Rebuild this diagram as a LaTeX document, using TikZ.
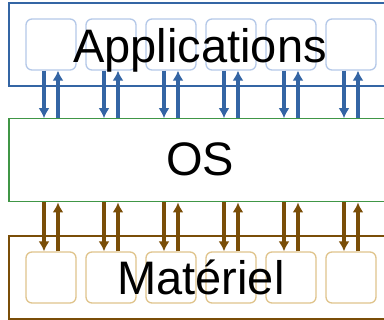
\documentclass[tikz,border=0pt]{standalone}
\usepackage{xcolor}
\usepackage{fontspec}
\setmainfont{Liberation Sans}
\usetikzlibrary{arrows.meta,positioning}

\definecolor{appblue}{RGB}{52,101,164}
\definecolor{applight}{RGB}{180,200,232}
\definecolor{osgreen}{RGB}{64,150,70}
\definecolor{hwbrown}{RGB}{122,78,8}
\definecolor{hwlight}{RGB}{224,196,140}

\tikzset{
    layer/.style={draw, line width=1.3pt, fill=white, minimum width=387pt, minimum height=83pt, inner sep=0pt},
    slot/.style={draw, line width=1.3pt, rounded corners=6pt, fill=white, minimum width=50pt, minimum height=51pt, inner sep=0pt},
    bigtext/.style={font=\fontsize{47}{50}\selectfont, inner sep=0pt, anchor=base},
}

\begin{document}
\begin{tikzpicture}[x=1pt, y=-1pt, >={Latex[length=10pt,width=11pt]}]
        \useasboundingbox (0,0) rectangle (384,320);

        \node[layer, draw=appblue] (apps) at (202.5,44.5) {};
        \node[layer, draw=osgreen] (os) at (202.5,160.3) {};
        \node[layer, draw=hwbrown] (hw) at (202.5,277.5) {};

        \node[slot, draw=applight] (A1) at (51,44.5) {};
        \node[slot, draw=applight] (A2) at (111,44.5) {};
        \node[slot, draw=applight] (A3) at (171,44.5) {};
        \node[slot, draw=applight] (A4) at (231,44.5) {};
        \node[slot, draw=applight] (A5) at (291,44.5) {};
        \node[slot, draw=applight] (A6) at (351,44.5) {};

        \node[slot, draw=hwlight] (M1) at (51,277.5) {};
        \node[slot, draw=hwlight] (M2) at (111,277.5) {};
        \node[slot, draw=hwlight] (M3) at (171,277.5) {};
        \node[slot, draw=hwlight] (M4) at (231,277.5) {};
        \node[slot, draw=hwlight] (M5) at (291,277.5) {};
        \node[slot, draw=hwlight] (M6) at (351,277.5) {};

        \node[bigtext] (appstext) at (200,63) {Applications};
        \node[bigtext] (ostext) at (200,176) {OS};
        \node[bigtext] (hwtext) at (201,295) {Matériel};

        % applications <-> os
        \draw[->, appblue, line width=3.3pt] ([xshift=-7pt]A1.south) -- ([xshift=-7pt]A1.south |- os.north);
        \draw[<-, appblue, line width=3.3pt] ([xshift=7pt]A1.south) -- ([xshift=7pt]A1.south |- os.north);
        \draw[->, appblue, line width=3.3pt] ([xshift=-7pt]A2.south) -- ([xshift=-7pt]A2.south |- os.north);
        \draw[<-, appblue, line width=3.3pt] ([xshift=7pt]A2.south) -- ([xshift=7pt]A2.south |- os.north);
        \draw[->, appblue, line width=3.3pt] ([xshift=-7pt]A3.south) -- ([xshift=-7pt]A3.south |- os.north);
        \draw[<-, appblue, line width=3.3pt] ([xshift=7pt]A3.south) -- ([xshift=7pt]A3.south |- os.north);
        \draw[->, appblue, line width=3.3pt] ([xshift=-7pt]A4.south) -- ([xshift=-7pt]A4.south |- os.north);
        \draw[<-, appblue, line width=3.3pt] ([xshift=7pt]A4.south) -- ([xshift=7pt]A4.south |- os.north);
        \draw[->, appblue, line width=3.3pt] ([xshift=-7pt]A5.south) -- ([xshift=-7pt]A5.south |- os.north);
        \draw[<-, appblue, line width=3.3pt] ([xshift=7pt]A5.south) -- ([xshift=7pt]A5.south |- os.north);
        \draw[->, appblue, line width=3.3pt] ([xshift=-7pt]A6.south) -- ([xshift=-7pt]A6.south |- os.north);
        \draw[<-, appblue, line width=3.3pt] ([xshift=7pt]A6.south) -- ([xshift=7pt]A6.south |- os.north);

        % os <-> materiel
        \draw[<-, hwbrown, line width=3.3pt] ([xshift=-7pt]M1.north) -- ([xshift=-7pt]M1.north |- os.south);
        \draw[->, hwbrown, line width=3.3pt] ([xshift=7pt]M1.north) -- ([xshift=7pt]M1.north |- os.south);
        \draw[<-, hwbrown, line width=3.3pt] ([xshift=-7pt]M2.north) -- ([xshift=-7pt]M2.north |- os.south);
        \draw[->, hwbrown, line width=3.3pt] ([xshift=7pt]M2.north) -- ([xshift=7pt]M2.north |- os.south);
        \draw[<-, hwbrown, line width=3.3pt] ([xshift=-7pt]M3.north) -- ([xshift=-7pt]M3.north |- os.south);
        \draw[->, hwbrown, line width=3.3pt] ([xshift=7pt]M3.north) -- ([xshift=7pt]M3.north |- os.south);
        \draw[<-, hwbrown, line width=3.3pt] ([xshift=-7pt]M4.north) -- ([xshift=-7pt]M4.north |- os.south);
        \draw[->, hwbrown, line width=3.3pt] ([xshift=7pt]M4.north) -- ([xshift=7pt]M4.north |- os.south);
        \draw[<-, hwbrown, line width=3.3pt] ([xshift=-7pt]M5.north) -- ([xshift=-7pt]M5.north |- os.south);
        \draw[->, hwbrown, line width=3.3pt] ([xshift=7pt]M5.north) -- ([xshift=7pt]M5.north |- os.south);
        \draw[<-, hwbrown, line width=3.3pt] ([xshift=-7pt]M6.north) -- ([xshift=-7pt]M6.north |- os.south);
        \draw[->, hwbrown, line width=3.3pt] ([xshift=7pt]M6.north) -- ([xshift=7pt]M6.north |- os.south);
    \end{tikzpicture}
\end{document}
